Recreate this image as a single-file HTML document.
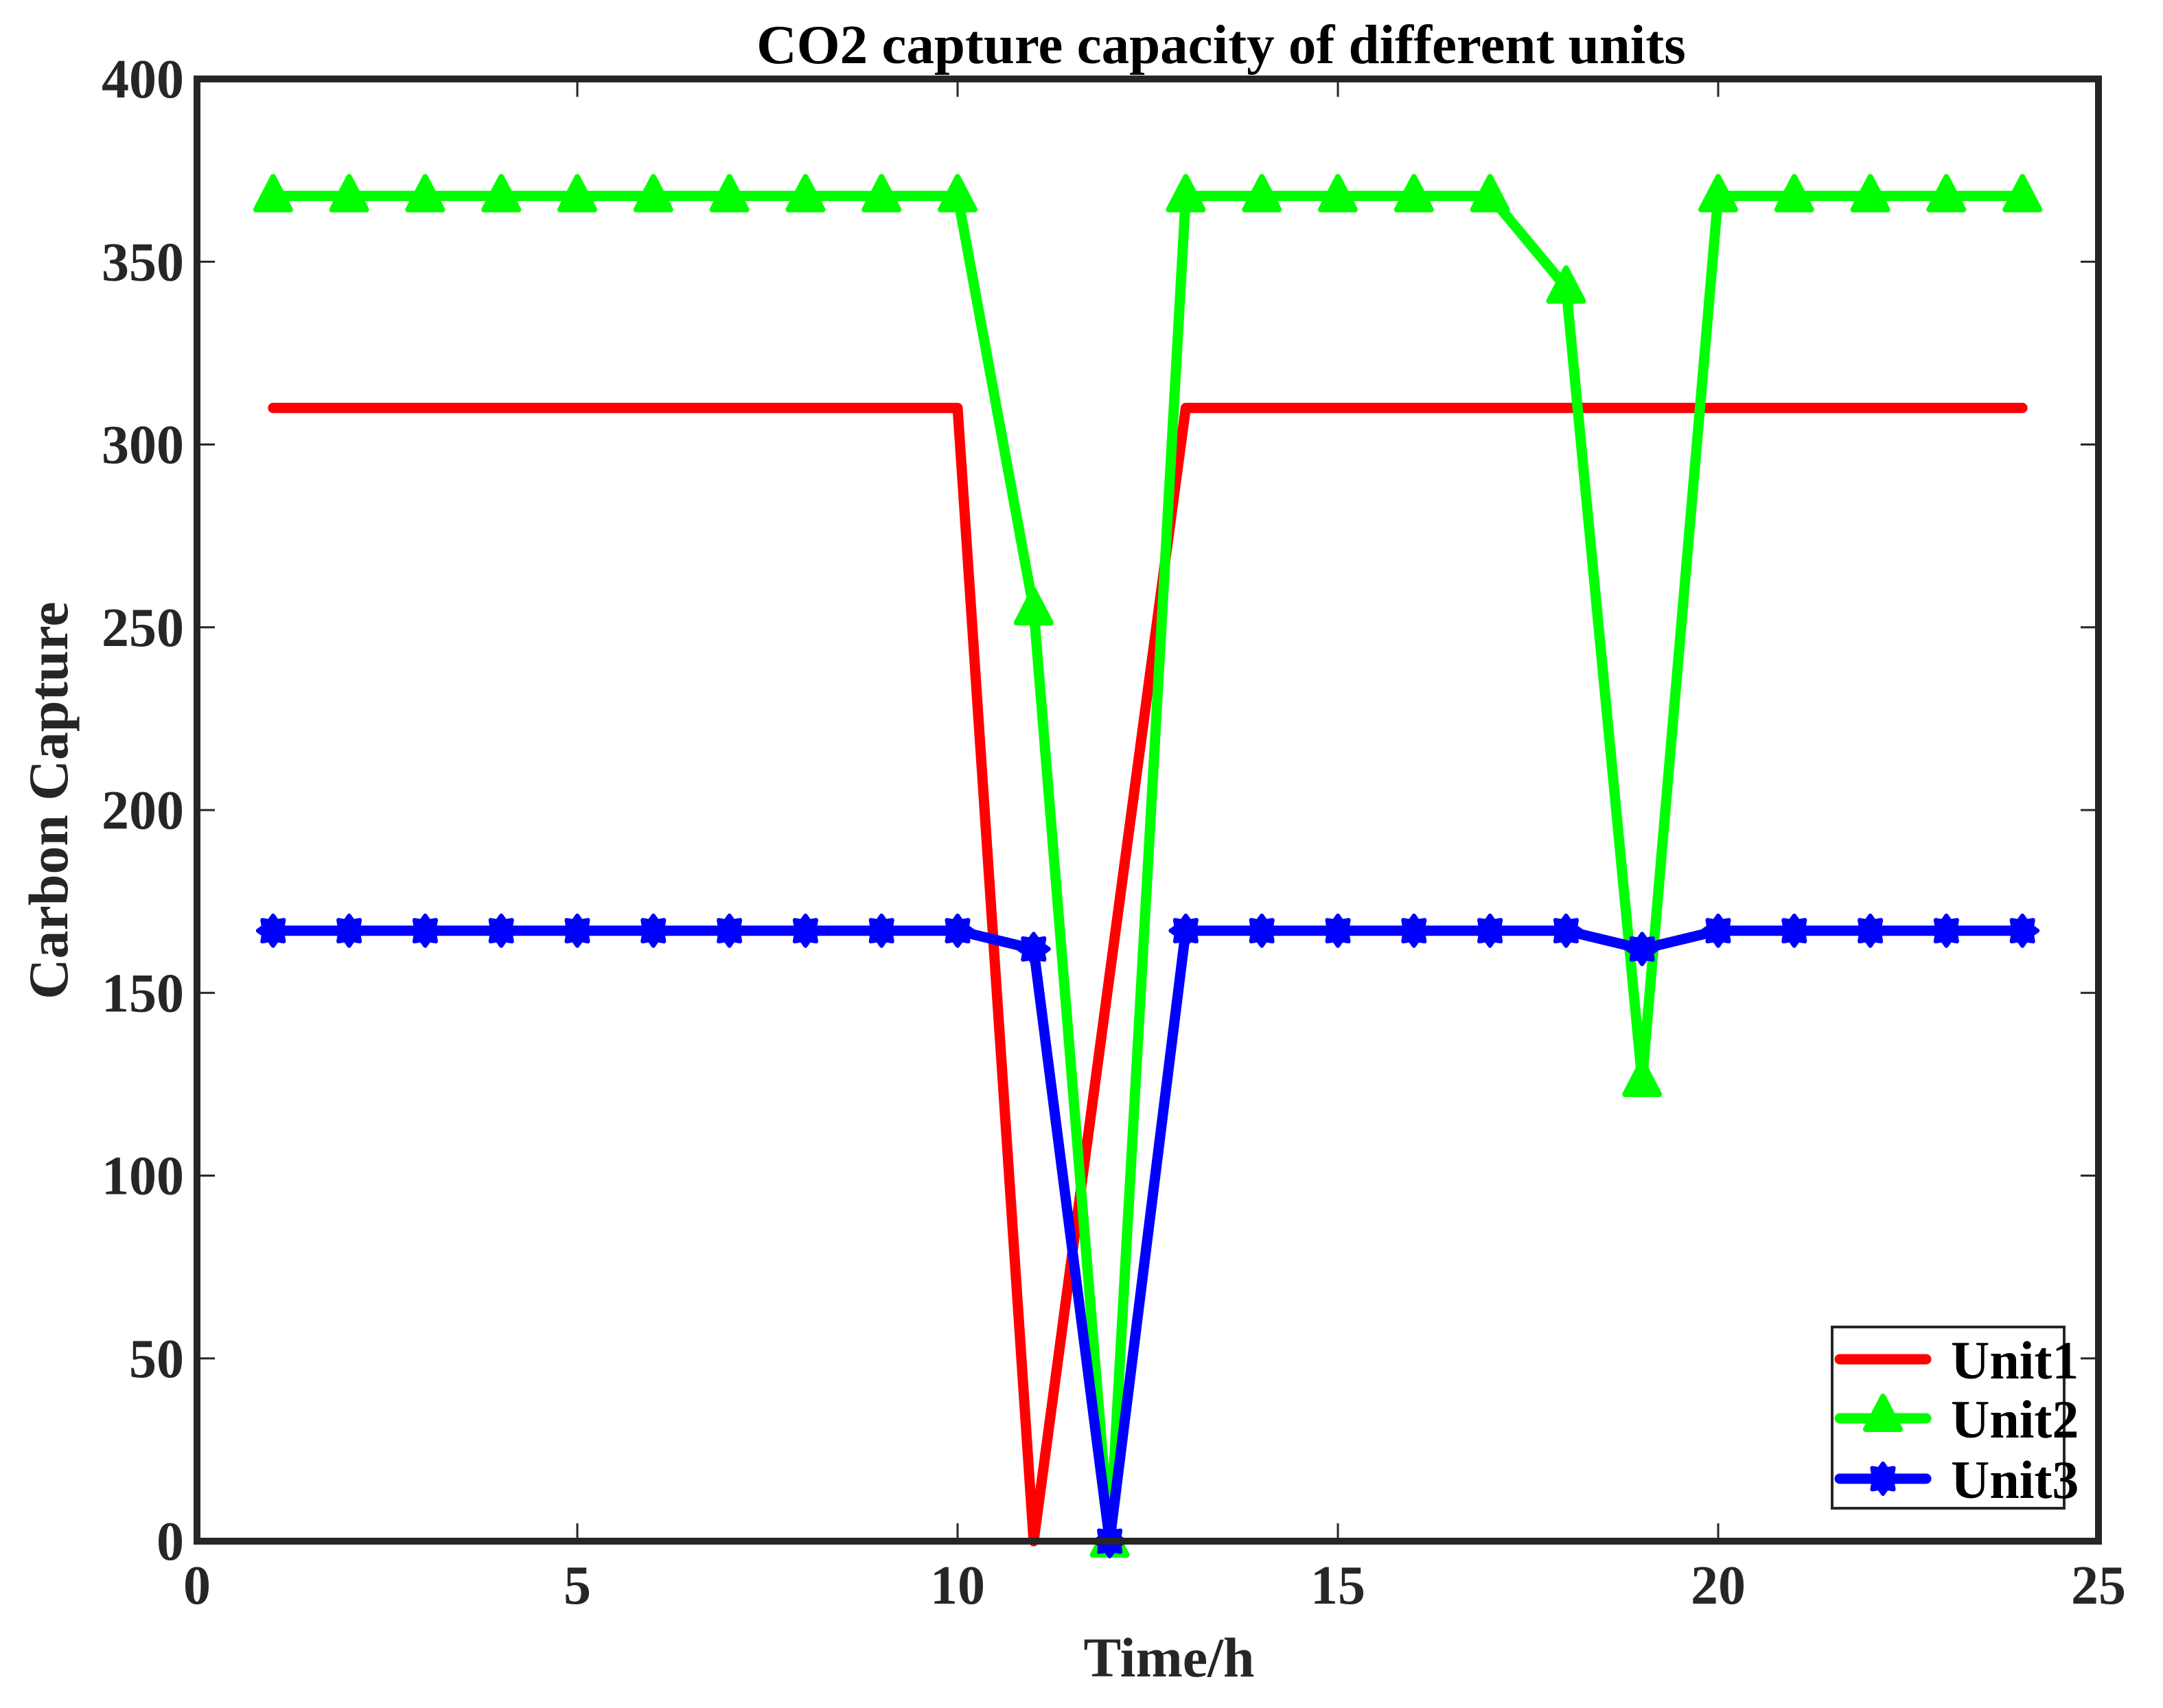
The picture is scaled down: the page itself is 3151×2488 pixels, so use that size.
<!DOCTYPE html>
<html><head><meta charset="utf-8"><style>
html,body{margin:0;padding:0;background:#fff;}
svg{display:block;font-family:"Liberation Serif",serif;font-weight:bold;}
</style></head><body>
<svg id="chart" width="3151" height="2488" viewBox="0 0 3151 2488" xmlns="http://www.w3.org/2000/svg">
<rect x="0" y="0" width="3151" height="2488" fill="#fff"/>
<g id="axes"></g>
<g id="series"></g>
<rect x="287" y="115" width="2770" height="2130" fill="none" stroke="#262626" stroke-width="10"/>
<text x="1779" y="92" font-size="81" text-anchor="middle" fill="#000">CO2 capture capacity of different units</text>
<text x="1703" y="2442" font-size="82" text-anchor="middle" fill="#262626">Time/h</text>
<text transform="translate(98,1166) rotate(-90)" font-size="82" text-anchor="middle" fill="#262626">Carbon Capture</text>
<g>
<rect x="2669" y="1933" width="338" height="264" fill="#fff" stroke="#262626" stroke-width="4"/>
<g id="legend-items"></g>
</g>
</svg>
<script>
const hours = [1,2,3,4,5,6,7,8,9,10,11,12,13,14,15,16,17,18,19,20,21,22,23,24];
const unit1 = [310,310,310,310,310,310,310,310,310,310,0,155,310,310,310,310,310,310,310,310,310,310,310,310];
const unit2 = [368,368,368,368,368,368,368,368,368,368,255,0,368,368,368,368,368,343,126,368,368,368,368,368];
const unit3 = [167,167,167,167,167,167,167,167,167,167,162,0,167,167,167,167,167,167,162,167,167,167,167,167];
const xTicks = [0,5,10,15,20,25];
const yTicks = [0,50,100,150,200,250,300,350,400];
const seriesNames = ["Unit1","Unit2","Unit3"];

const NS = "http://www.w3.org/2000/svg";
const L=287,R=3057,T=115,B=2245;
const xs = v => L + (v-0)/(25-0)*(R-L);
const ys = v => B - (v-0)/(400-0)*(B-T);
function mk(tag, attrs, parent){const e=document.createElementNS(NS,tag);for(const k in attrs)e.setAttribute(k,attrs[k]);parent.appendChild(e);return e;}

const axes=document.getElementById('axes');
xTicks.forEach(t=>{
  const x=xs(t);
  const a=mk('line',{x1:x,x2:x,y1:B,y2:B-26,stroke:'#262626','stroke-width':3},axes);
  
  
  const b=mk('line',{x1:x,x2:x,y1:T,y2:T+26,stroke:'#262626','stroke-width':3},axes);
  
  
  const tx=mk('text',{x:x,y:2336,'font-size':80,'text-anchor':'middle',fill:'#262626'},axes);
  tx.textContent=t;
  
  
});
yTicks.forEach(t=>{
  const y=ys(t);
  const a=mk('line',{x1:L,x2:L+26,y1:y,y2:y,stroke:'#262626','stroke-width':3},axes);
  
  
  const b=mk('line',{x1:R,x2:R-26,y1:y,y2:y,stroke:'#262626','stroke-width':3},axes);
  
  
  const tx=mk('text',{x:268,y:y+27,'font-size':80,'text-anchor':'end',fill:'#262626'},axes);
  tx.textContent=t;
  
  
});

function tri(cx,cy,g,name){
  const p=mk('path',{d:`M${cx},${cy-28} L${cx+25},${cy+20} L${cx-25},${cy+20} Z`,fill:'#00ff00',stroke:'#00ff00','stroke-width':8,'stroke-linejoin':'round'},g);
  
  
}
function star(cx,cy,g,name){
  let d='';
  for(let i=0;i<16;i++){const r=i%2?15:22;const a=i*Math.PI/8;d+=(i?'L':'M')+(cx+r*Math.cos(a))+','+(cy+r*Math.sin(a));}
  const p=mk('path',{d:d+'Z',fill:'#0000ff',stroke:'#0000ff','stroke-width':6,'stroke-linejoin':'round'},g);
  
  
}
const ser=document.getElementById('series');
const colors=['#ff0000','#00ff00','#0000ff'];
[unit1,unit2,unit3].forEach((vals,si)=>{
  const g=mk('g',{},ser);
  
  
  const pts=hours.map((h,i)=>xs(h)+','+ys(vals[i])).join(' ');
  const pl=mk('polyline',{points:pts,fill:'none',stroke:colors[si],'stroke-width':15,'stroke-linejoin':'round','stroke-linecap':'round'},g);
  
  
  hours.forEach((h,i)=>{
    if(si===1) tri(xs(h),ys(vals[i]),g,'marker-unit2');
    if(si===2) star(xs(h),ys(vals[i]),g,'marker-unit3');
  });
});

const li=document.getElementById('legend-items');
const rows=[1980,2066,2154];
seriesNames.forEach((n,i)=>{
  const g=mk('g',{},li);
  
  
  mk('line',{x1:2680,x2:2806,y1:rows[i],y2:rows[i],stroke:colors[i],'stroke-width':15,'stroke-linecap':'round'},g);
  if(i===1) tri(2743,rows[i]-4,g,'legend-marker');
  if(i===2) star(2743,rows[i],g,'legend-marker');
  const t=mk('text',{x:2842,y:rows[i]+28,'font-size':78,fill:'#000'},g);
  t.textContent=n;
  
  
});
</script>
</body></html>
